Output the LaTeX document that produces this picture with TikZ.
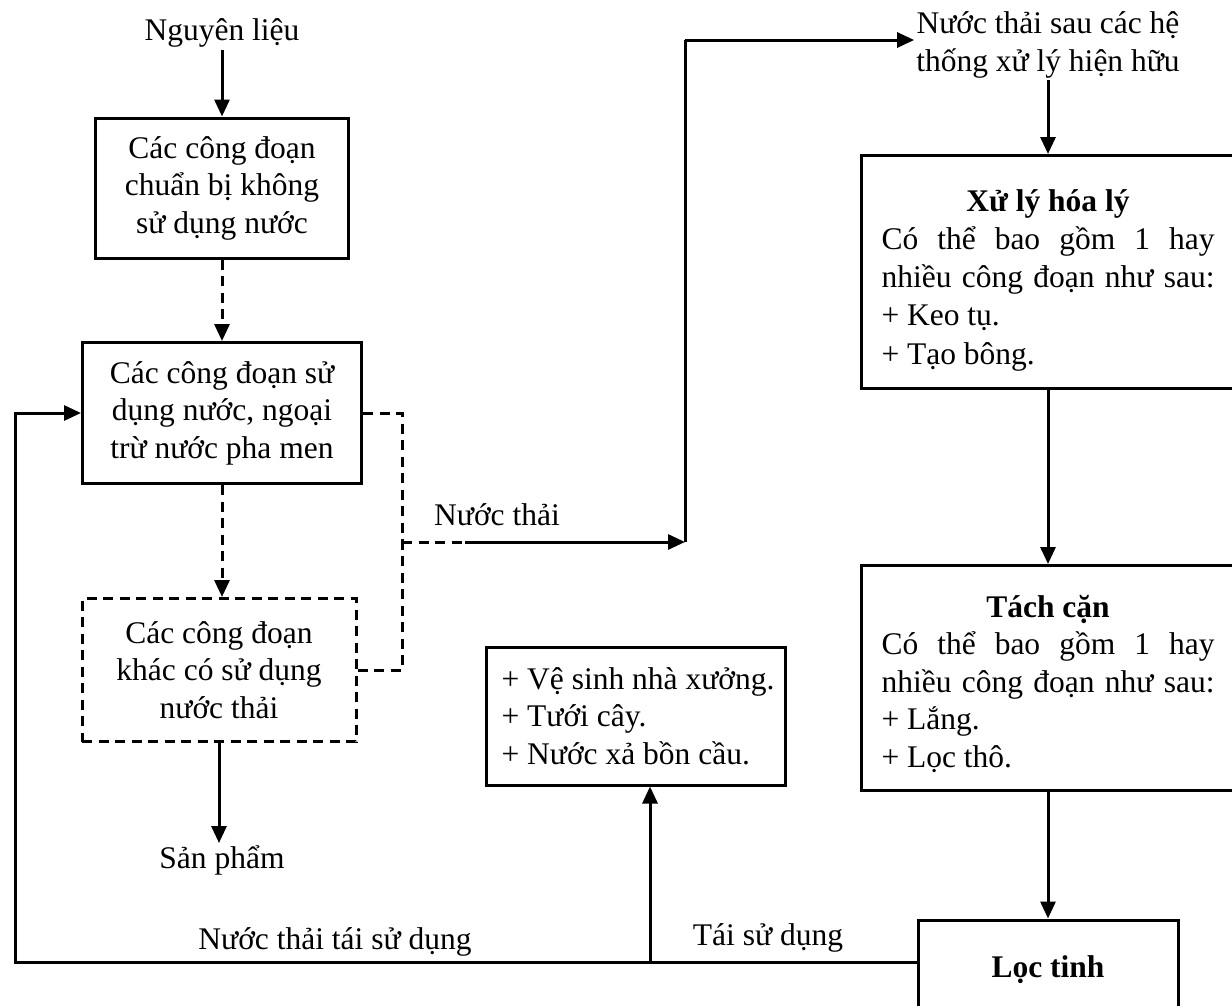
\documentclass[tikz,border=0pt]{standalone}
\usepackage{fontspec}
\setmainfont{Liberation Serif}
\usetikzlibrary{arrows.meta,calc}
\newlength{\rtw}
\setlength{\rtw}{333pt}
\newcommand{\fullline}[1]{\hbox to\rtw{#1}}
\begin{document}
\begin{tikzpicture}[x=1pt,y=-1pt,
  every node/.style={font=\fontsize{31.5}{37.5}\selectfont},
  box/.style={draw,line width=3pt,inner sep=0pt,align=center},
  dbox/.style={box,dash pattern=on 10pt off 6.5pt},
  lbl/.style={inner sep=2pt,align=center},
  arr/.style={line width=3pt,-{Triangle[length=17pt,width=15pt]}},
  darr/.style={arr,dash pattern=on 10pt off 6.5pt},
  ln/.style={line width=3pt},
  dln/.style={line width=3pt,dash pattern=on 10pt off 6.5pt}]
\useasboundingbox (0,0) rectangle (1232,1005);

% left column
\node[lbl] (src) at (222,33) {Nguyên liệu};
\node[box,minimum width=253pt,minimum height=140pt] (b1) at (222,188)
  {Các công đoạn\\chuẩn bị không\\sử dụng nước};
\node[box,minimum width=279pt,minimum height=141pt] (b2) at (222,413)
  {Các công đoạn sử\\dụng nước, ngoại\\trừ nước pha men};
\node[dbox,minimum width=274pt,minimum height=143pt] (b3) at (219,670)
  {Các công đoạn\\khác có sử dụng\\nước thải};
\node[lbl] (prod) at (222,860) {Sản phẩm};

% middle box
\node[box,minimum width=299pt,minimum height=138pt,align=left] (b7) at (636,716)
  {\hspace*{4pt}+ Vệ sinh nhà xưởng.\\\hspace*{4pt}+ Tưới cây.\\\hspace*{4pt}+ Nước xả bồn cầu.};

% right column
\node[lbl] (top) at (1048,45) {Nước thải sau các hệ\\thống xử lý hiện hữu};
\node[box,minimum width=374pt,minimum height=233pt,align=left] (b4) at (1048,272)
  {\fullline{\rule{0pt}{38pt}\hfil\bfseries Xử lý hóa lý\hfil}\\[1pt]
   \fullline{Có\hfill thể\hfill bao\hfill gồm\hfill 1\hfill hay}\\
   \fullline{nhiều\hfill công\hfill đoạn\hfill như\hfill sau:}\\[1pt]
   + Keo tụ.\\[1pt]
   + Tạo bông.};
\node[box,minimum width=374pt,minimum height=225pt,align=left] (b5) at (1048,678)
  {\fullline{\rule{0pt}{34pt}\hfil\bfseries Tách cặn\hfil}\\
   \fullline{Có\hfill thể\hfill bao\hfill gồm\hfill 1\hfill hay}\\
   \fullline{nhiều\hfill công\hfill đoạn\hfill như\hfill sau:}\\
   + Lắng.\\
   + Lọc thô.};
\node[box,minimum width=260pt,minimum height=100pt] (b6) at (1048,970)
  {\bfseries Lọc tinh};

% labels
\node[lbl] (lnt) at (497,515) {Nước thải};
\node[lbl] (lreuse) at (335,942) {Nước thải tái sử dụng};
\node[lbl] (lts) at (768,938) {Tái sử dụng};

% coordinates
\coordinate (j) at (402,542);
\coordinate (jd) at (465,542);
\coordinate (k) at (685,542);
\coordinate (kt) at (685,40);
\coordinate (L) at (15,962);
\coordinate (T) at (650,962);

% left column connectors
\draw[arr] (src) -- (b1);
\draw[darr] (b1) -- (b2);
\draw[darr] (b2.south) -- (b2.south |- b3.north);
\draw[arr] (b3.south) -- (b3.south |- prod.north);

% waste water collection
\draw[dln] (b2.east) -| (j);
\draw[dln] (b3.east) -| (j);
\draw[dln] (j) -- (jd);
\draw[arr] (jd) -- (k);
\draw[ln] (k) -- (kt);
\draw[arr] (kt) -- (kt -| top.west);

% right column
\draw[arr] (top.south) -- (top.south |- b4.north);
\draw[arr] (b4) -- (b5);
\draw[arr] (b5) -- (b6);

% reuse lines
\draw[arr] (b6.west |- L) -- (L) |- (b2.west);
\draw[arr] (T) -- (T |- b7.south);
\end{tikzpicture}
\end{document}
